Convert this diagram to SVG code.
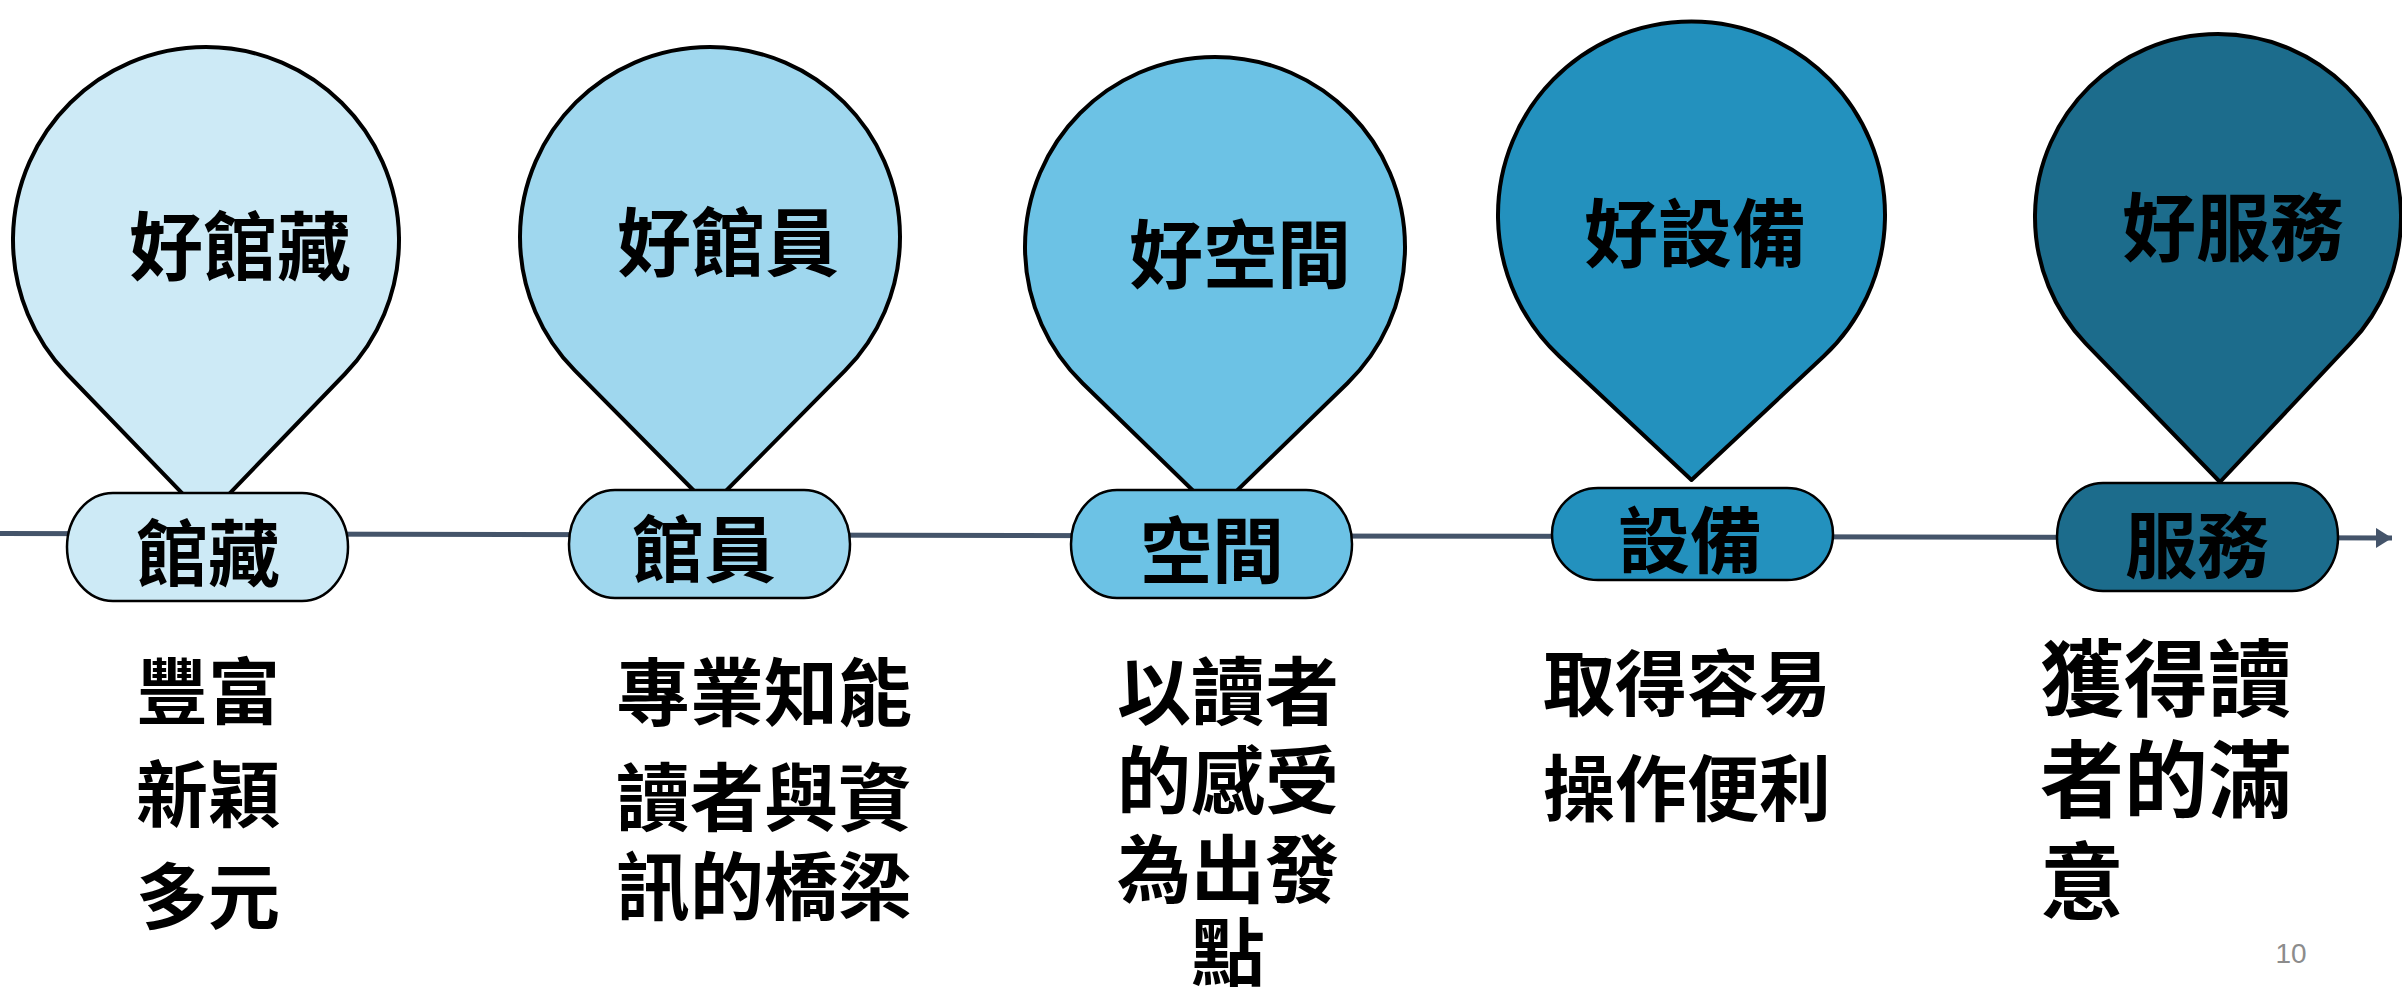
<svg xmlns="http://www.w3.org/2000/svg" width="2402" height="989" viewBox="0 0 2402 989">
<style>
.pin{stroke:#000;stroke-width:4;stroke-linejoin:round}
.pill{stroke:#000;stroke-width:2.5}
.t{font-family:"Noto Sans CJK TC","Noto Sans CJK SC",sans-serif;font-weight:700;fill:#000;text-anchor:middle}
.s{font-size:74px}
.p{font-size:72px}
.pg{font-family:"Liberation Sans",Arial,sans-serif;font-size:28px;fill:#8C8C8C;text-anchor:middle}
</style>
<defs>
<marker id="arr" markerWidth="4" markerHeight="4" refX="3.2" refY="2" orient="auto" markerUnits="strokeWidth">
<path d="M0,0 L3.2,2 L0,4 Z" fill="#44546A"/>
</marker>
</defs>
<rect width="2402" height="989" fill="#fff"/>
<g id="connectors">
<line x1="0" y1="533.5" x2="2392" y2="538" stroke="#44546A" stroke-width="5" marker-end="url(#arr)"/>
</g>
<g id="node1">
<path class="pin" fill="#CDEAF6" d="M206,518 L67.1,374 A193,193 0 1 1 344.9,374 Z"/>
<text class="t s" x="240" y="274">好館藏</text>
<rect class="pill" fill="#CDEAF6" x="67" y="493" width="281" height="108" rx="46" ry="54"/>
<text class="t p" x="208" y="580">館藏</text>
<text class="t p"><tspan x="208" y="718">豐富</tspan><tspan x="208" y="821">新穎</tspan><tspan x="208" y="923">多元</tspan></text>
</g>
<g id="node2">
<path class="pin" fill="#9FD7EE" d="M710,507 L575,370.7 A190,190 0 1 1 845,370.7 Z"/>
<text class="t s" x="728" y="270">好館員</text>
<rect class="pill" fill="#9FD7EE" x="569" y="490" width="281" height="108" rx="46" ry="54"/>
<text class="t p" x="704" y="576">館員</text>
<text class="t s"><tspan x="764" y="720">專業知能</tspan><tspan x="764" y="825">讀者與資</tspan><tspan x="764" y="914">訊的橋梁</tspan></text>
</g>
<g id="node3">
<path class="pin" fill="#6CC2E5" d="M1215,512 L1082.6,383.2 A190,190 0 1 1 1347.4,383.2 Z"/>
<text class="t s" x="1240" y="282">好空間</text>
<rect class="pill" fill="#6CC2E5" x="1071" y="490" width="281" height="108" rx="46" ry="54"/>
<text class="t p" x="1212" y="577">空間</text>
<text class="t s"><tspan x="1228" y="719">以讀者</tspan><tspan x="1228" y="808">的感受</tspan><tspan x="1228" y="897">為出發</tspan><tspan x="1228" y="980">點</tspan></text>
</g>
<g id="node4">
<path class="pin" fill="#2391BE" d="M1691.5,480 L1559.3,356.3 A193.5,193.5 0 1 1 1823.7,356.3 Z"/>
<text class="t s" x="1695" y="261">好設備</text>
<rect class="pill" fill="#2391BE" x="1552" y="488" width="281" height="92" rx="46" ry="46"/>
<text class="t p" x="1690" y="567">設備</text>
<text class="t p"><tspan x="1687" y="710">取得容易</tspan><tspan x="1687" y="815">操作便利</tspan></text>
</g>
<g id="node5">
<path class="pin" fill="#1C6C8C" d="M2220,482 L2085.6,343.4 A183,183 0 1 1 2350.4,343.4 Z"/>
<text class="t s" x="2233" y="255">好服務</text>
<rect class="pill" fill="#1C6C8C" x="2057" y="483" width="281" height="108" rx="46" ry="54"/>
<text class="t p" x="2197" y="572">服務</text>
<text class="t" style="font-size:84px;text-anchor:start"><tspan x="2040" y="710">獲得讀</tspan><tspan x="2040" y="811">者的滿</tspan><tspan x="2040" y="913">意</tspan></text>
</g>
<text class="pg" x="2291" y="963">10</text>
</svg>
